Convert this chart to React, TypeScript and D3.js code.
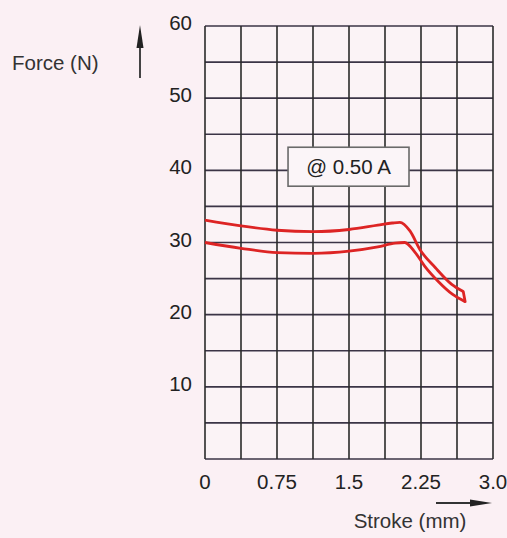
import React from "react";
import * as d3 from "d3";

const xTicks = [0, 0.75, 1.5, 2.25, 3.0];
const xTickLabels = ["0", "0.75", "1.5", "2.25", "3.0"];
const yTicks = [10, 20, 30, 40, 50, 60];
const xGrid = [0, 0.375, 0.75, 1.125, 1.5, 1.875, 2.25, 2.625, 3.0];
const yGrid = [0, 5, 10, 15, 20, 25, 30, 35, 40, 45, 50, 55, 60];

const strokeUpper = [0, 0.375, 0.75, 1.125, 1.5, 1.8, 1.95, 2.03, 2.135, 2.24, 2.4, 2.57, 2.69];
const forceUpper = [33.1, 32.3, 31.7, 31.5, 31.8, 32.4, 32.7, 32.8, 31.6, 29.0, 26.5, 24.2, 23.2];
const strokeLower = [0, 0.375, 0.75, 1.125, 1.5, 1.8, 1.98, 2.08, 2.19, 2.29, 2.43, 2.58, 2.71];
const forceLower = [30.0, 29.2, 28.6, 28.5, 28.8, 29.4, 29.9, 30.0, 28.6, 26.7, 24.6, 22.8, 21.8];

const annotation = "@ 0.50 A";

const W = 507;
const H = 538;
const left = 205, right = 493, top = 26, bottom = 459;
const font = "'Liberation Sans', Arial, sans-serif";
const fs = 20.5;

export default function App() {
  const x = d3.scaleLinear().domain([0, 3]).range([left, right]);
  const y = d3.scaleLinear().domain([0, 60]).range([bottom, top]);
  const line = d3
    .line<[number, number]>()
    .x((d) => x(d[0]))
    .y((d) => y(d[1]))
    .curve(d3.curveMonotoneX);
  const up: [number, number][] = strokeUpper.map((s, i) => [s, forceUpper[i]]);
  const lo: [number, number][] = strokeLower.map((s, i) => [s, forceLower[i]]);
  const uEnd = up[up.length - 1];
  const lEnd = lo[lo.length - 1];

  const boxL = x(0.865), boxR = x(2.125), boxT = y(43.2), boxB = y(37.8);

  return (
    <svg
      width={W}
      height={H}
      style={{ position: "absolute", left: 0, top: 0, background: "#fbf0f4" }}
      fontFamily={font}
    >
      <rect x={0} y={0} width={W} height={H} fill="#fbf0f4" />
      <rect x={left} y={top} width={right - left} height={bottom - top} fill="#fbf3f6" />
      {yGrid.map((v) => (
        <line key={"h" + v} x1={left} x2={right} y1={y(v)} y2={y(v)} stroke="#3b3446" strokeWidth={1.6} />
      ))}
      {xGrid.map((v) => (
        <line key={"v" + v} x1={x(v)} x2={x(v)} y1={top} y2={bottom} stroke="#2a2a2a" strokeWidth={1.6} />
      ))}
      <path d={line(up) || ""} fill="none" stroke="#dd2424" strokeWidth={2.8} strokeLinejoin="round" />
      <path d={line(lo) || ""} fill="none" stroke="#dd2424" strokeWidth={2.8} strokeLinejoin="round" />
      <line
        x1={x(uEnd[0])}
        y1={y(uEnd[1])}
        x2={x(lEnd[0])}
        y2={y(lEnd[1])}
        stroke="#dd2424"
        strokeWidth={2.8}
        strokeLinecap="round"
      />
      <rect x={boxL} y={boxT} width={boxR - boxL} height={boxB - boxT} fill="#fbf5f8" stroke="#6a6a6a" strokeWidth={1.6} />
      <text x={(boxL + boxR) / 2} y={(boxT + boxB) / 2 + 7} textAnchor="middle" fontSize={fs} fill="#222">
        {annotation}
      </text>
      {yTicks.map((v) => (
        <text key={"yt" + v} x={192} y={y(v) + 4} textAnchor="end" fontSize={fs} fill="#222">
          {v}
        </text>
      ))}
      {xTicks.map((v, i) => (
        <text key={"xt" + v} x={x(v)} y={489} textAnchor="middle" fontSize={fs} fill="#222">
          {xTickLabels[i]}
        </text>
      ))}
      <text x={12} y={70} fontSize={fs} fill="#333">
        Force (N)
      </text>
      <line x1={140} x2={140} y1={44} y2={78} stroke="#444" strokeWidth={2} />
      <path d="M140,25 L143.5,48 L136.5,48 Z" fill="#222" />
      <line x1={436} x2={474} y1={503} y2={503} stroke="#333" strokeWidth={2} />
      <path d="M492,503 L470,499.5 L470,506.5 Z" fill="#222" />
      <text x={410} y={528} textAnchor="middle" fontSize={fs} fill="#333">
        Stroke (mm)
      </text>
    </svg>
  );
}
